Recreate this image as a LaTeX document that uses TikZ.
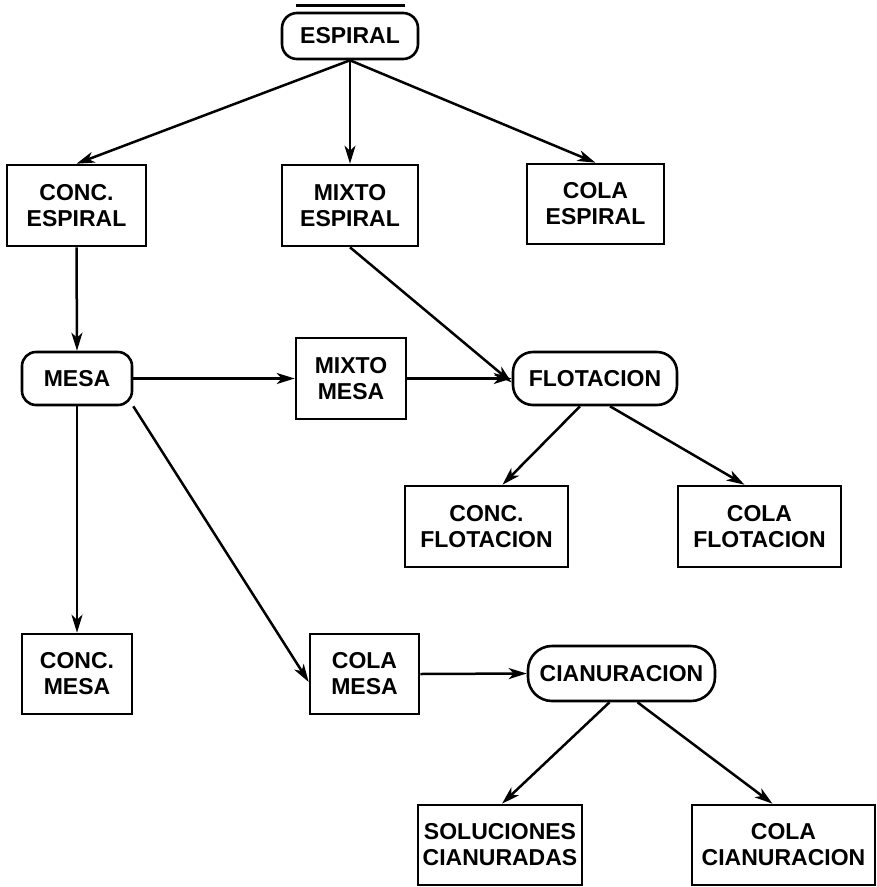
\documentclass[tikz,border=0pt]{standalone}
\usepackage{fontspec}
\setmainfont{Liberation Sans}
\usetikzlibrary{arrows.meta}
\tikzset{
  lbl/.style={font=\bfseries\fontsize{23}{26}\selectfont, align=center, inner sep=0pt},
  sqbox/.style={lbl, draw, line width=2.6pt, minimum height=81pt},
  rbox/.style={lbl, draw, line width=2.6pt, rounded corners=15pt, minimum height=53pt},
  flow/.style={line width=2.5pt, -{Stealth[length=18pt,width=11pt,inset=5pt]}},
}
\begin{document}
\begin{tikzpicture}[x=1pt,y=-1pt]
\useasboundingbox (0,0) rectangle (877,887);
\draw[line width=3pt] (296,5) -- (405,5);
\node[rbox, minimum width=136pt, minimum height=46pt] (esp) at (350,36) {ESPIRAL};
\node[sqbox, minimum width=139pt] (concesp) at (76.5,205.5) {CONC.\\ESPIRAL};
\node[sqbox, minimum width=136pt] (mixesp) at (350,205.5) {MIXTO\\ESPIRAL};
\node[sqbox, minimum width=137pt, minimum height=80pt] (colaesp) at (595.5,204) {COLA\\ESPIRAL};
\node[rbox, minimum width=110pt, rounded corners=14pt] (mesa) at (77,378.5) {MESA};
\node[sqbox, minimum width=110pt] (mixmesa) at (351,378.5) {MIXTO\\MESA};
\node[rbox, minimum width=164pt, rounded corners=20pt] (flot) at (595,378.5) {FLOTACION};
\node[sqbox, minimum width=163pt] (concflot) at (486.5,526.5) {CONC.\\FLOTACION};
\node[sqbox, minimum width=163pt] (colaflot) at (759.5,526.5) {COLA\\FLOTACION};
\node[sqbox, minimum width=110pt, minimum height=80pt] (concmesa) at (77,674) {CONC.\\MESA};
\node[sqbox, minimum width=109pt, minimum height=80pt] (colamesa) at (364.5,674) {COLA\\MESA};
\node[rbox, minimum width=187pt, minimum height=55pt, rounded corners=24pt] (cian) at (621.5,673.5) {CIANURACION};
\node[sqbox, minimum width=164pt, minimum height=80pt] (solu) at (500,845) {SOLUCIONES\\CIANURADAS};
\node[sqbox, minimum width=183pt, minimum height=80pt] (colacian) at (783.5,845) {COLA\\CIANURACION};

\draw[flow] (esp.south) -- (concesp.north);
\draw[flow] (esp.south) -- (mixesp.north);
\draw[flow] (esp.south) -- (colaesp.north);
\draw[flow] (concesp.south) -- (mesa.north);
\draw[flow] (mixesp.south) -- ([yshift=-4pt]flot.west);
\draw[flow] (mesa.east) -- (mixmesa.west);
\draw[flow] (mixmesa.east) -- (flot.west);
\draw[flow] ([xshift=-15pt]flot.south) -- ([xshift=16pt]concflot.north);
\draw[flow] ([xshift=15pt]flot.south) -- ([xshift=-15pt]colaflot.north);
\draw[flow] (mesa.south) -- (concmesa.north);
\draw[flow] (mesa.south east) -- ([yshift=-8pt]colamesa.west);
\draw[flow] (colamesa.east) -- (cian.west);
\draw[flow] ([xshift=-12pt]cian.south) -- ([xshift=2pt]solu.north);
\draw[flow] ([xshift=16pt]cian.south) -- ([xshift=-11pt]colacian.north);
\end{tikzpicture}
\end{document}
